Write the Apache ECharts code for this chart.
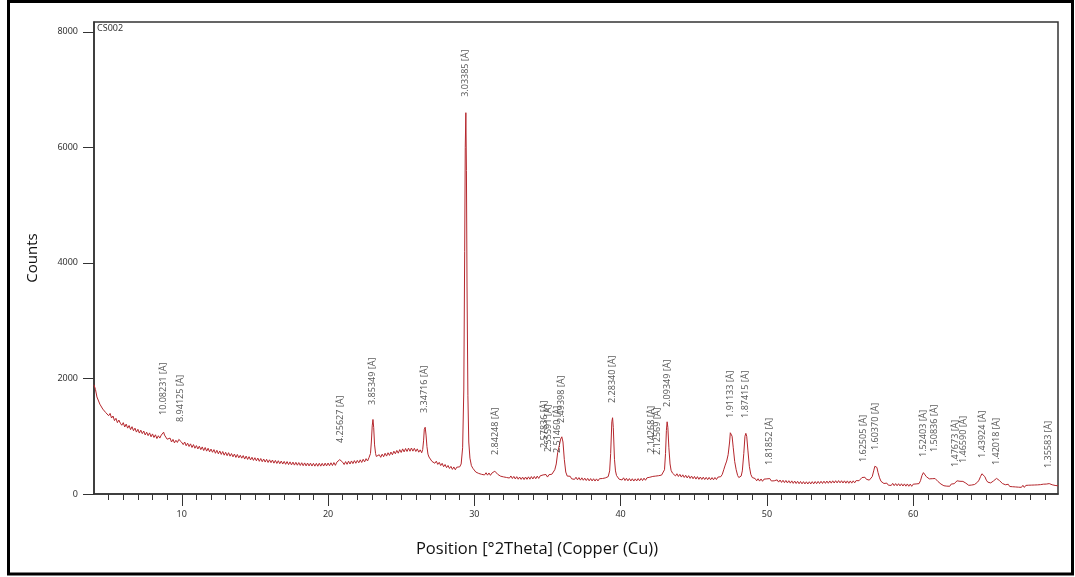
<!DOCTYPE html>
<html>
<head>
<meta charset="utf-8">
<script src="https://cdn.jsdelivr.net/npm/echarts@6/dist/echarts.min.js"></script>
<style>
html,body{margin:0;padding:0;background:#fff;}
#chart{width:1075px;height:577px;}
</style>
</head>
<body>
<div id="chart"></div>
<script>
// ---- data ----
var sampleName = 'CS002';
var xTitle = 'Position [°2Theta] (Copper (Cu))';
var yTitle = 'Counts';
var xMajorTicks = [10, 20, 30, 40, 50, 60];
var xMinorTicks = [5,6,7,8,9,11,12,13,14,15,16,17,18,19,21,22,23,24,25,26,27,28,29,31,32,33,34,35,36,37,38,39,41,42,43,44,45,46,47,48,49,51,52,53,54,55,56,57,58,59,61,62,63,64,65,66,67,68,69];
var yTicks = [0, 2000, 4000, 6000, 8000];

// diffraction pattern [2theta, counts]
var pattern = [
[4.0,1890],[4.1,1810],[4.2,1680],[4.3,1670],[4.4,1555],[4.5,1575],[4.6,1470],[4.7,1500],[4.8,1410],[4.9,1440],[5.0,1355],
[5.1,1395],[5.2,1315],[5.3,1350],[5.4,1270],[5.5,1310],[5.6,1235],[5.7,1280],[5.8,1225],[5.9,1190],[6.0,1235],
[6.1,1160],[6.2,1210],[6.3,1140],[6.4,1185],[6.5,1115],[6.6,1165],[6.7,1095],[6.8,1140],[6.9,1072],[7.0,1120],
[7.1,1055],[7.2,1105],[7.3,1045],[7.4,1090],[7.5,1022],[7.6,1070],[7.7,1010],[7.8,1058],[7.9,990],[8.0,1040],
[8.1,978],[8.2,1025],[8.3,960],[8.4,1008],[8.5,968],[8.6,1020],[8.7,1050],[8.76,1070],[8.82,1020],[8.9,1000],[9.0,948],
[9.1,925],[9.2,968],[9.3,900],[9.4,945],[9.5,885],[9.6,930],[9.7,892],[9.8,945],[9.88,958],[9.96,905],[10.0,905],
[10.1,855],[10.2,900],[10.3,835],[10.4,880],[10.5,822],[10.6,868],[10.7,805],[10.8,855],[10.9,792],[11.0,838],
[11.1,780],[11.2,828],[11.3,768],[11.4,815],[11.5,752],[11.6,805],[11.7,742],[11.8,792],[11.9,730],[12.0,778],
[12.1,722],[12.2,768],[12.3,705],[12.4,756],[12.5,695],[12.6,745],[12.7,685],[12.8,735],[12.9,672],[13.0,722],
[13.1,663],[13.2,715],[13.3,655],[13.4,700],[13.5,643],[13.6,692],[13.7,633],[13.8,684],[13.9,626],[14.0,670],
[14.1,620],[14.2,665],[14.3,605],[14.4,656],[14.5,598],[14.6,646],[14.7,590],[14.8,636],[14.9,582],[15.0,628],
[15.1,574],[15.2,622],[15.3,566],[15.4,614],[15.5,559],[15.6,606],[15.7,553],[15.8,600],[15.9,546],[16.0,592],
[16.1,542],[16.2,588],[16.3,534],[16.4,581],[16.5,529],[16.6,576],[16.7,524],[16.8,570],[16.9,519],[17.0,564],
[17.1,514],[17.2,561],[17.3,509],[17.4,556],[17.5,504],[17.6,552],[17.7,500],[17.8,548],[17.9,498],[18.0,544],
[18.1,494],[18.2,541],[18.3,490],[18.4,538],[18.5,487],[18.6,536],[18.7,486],[18.8,534],[18.9,484],[19.0,531],
[19.1,482],[19.2,530],[19.3,481],[19.4,532],[19.5,482],[19.6,531],[19.7,484],[19.8,534],[19.9,486],[20.0,536],
[20.1,489],[20.2,540],[20.3,492],[20.4,544],[20.5,496],[20.6,551],[20.7,530],[20.8,595],[20.85,615],[20.9,565],[21.0,550],
[21.1,510],[21.2,561],[21.3,514],[21.4,568],[21.5,519],[21.6,572],[21.7,526],[21.8,578],[21.9,532],[22.0,582],
[22.1,540],[22.2,591],[22.3,546],[22.4,601],[22.5,556],[22.6,612],[22.7,572],[22.8,630],[22.9,700],[22.96,900],
[23.02,1180],[23.07,1290],[23.12,1150],[23.18,850],[23.25,700],[23.3,650],
[23.4,625],[23.5,680],[23.6,635],[23.7,690],[23.8,645],[23.9,705],[24.0,656],[24.1,714],[24.2,668],[24.3,726],[24.4,679],[24.5,741],
[24.6,696],[24.7,754],[24.8,706],[24.9,768],[25.0,719],[25.1,781],[25.2,729],[25.3,788],[25.4,736],[25.5,794],[25.6,740],[25.7,796],[25.8,742],[25.9,791],
[26.0,736],[26.1,781],[26.2,724],[26.3,764],[26.4,714],[26.47,770],[26.53,920],[26.58,1120],[26.64,1155],[26.70,1020],[26.76,820],[26.83,690],[26.9,640],
[27.0,628],[27.1,565],[27.2,591],[27.3,532],[27.4,568],[27.5,512],[27.6,548],[27.7,492],[27.8,531],[27.9,472],
[28.0,511],[28.1,456],[28.2,494],[28.3,442],[28.4,478],[28.5,426],[28.6,468],[28.7,420],[28.8,464],[28.9,430],
[29.0,470],[29.10,520],[29.20,800],[29.28,1800],[29.34,4200],[29.38,6000],[29.42,6600],[29.46,5600],[29.50,3600],[29.56,1700],
[29.62,900],[29.7,620],[29.8,490],[29.9,445],[30.0,425],[30.1,380],[30.2,400],[30.3,356],[30.4,384],[30.5,340],
[30.6,374],[30.7,330],[30.8,368],[30.9,326],[31.0,364],[31.1,323],[31.2,362],[31.3,350],[31.4,395],[31.45,412],
[31.5,395],[31.6,340],[31.7,350],[31.8,308],[31.9,342],[32.0,296],[32.1,330],[32.2,286],[32.3,320],[32.4,276],
[32.5,312],[32.6,268],[32.7,304],[32.8,260],[32.9,300],[33.0,256],[33.1,294],[33.2,253],[33.3,292],[33.4,250],
[33.5,294],[33.6,254],[33.7,297],[33.8,256],[33.9,302],[34.0,260],[34.1,304],[34.2,264],[34.3,310],[34.4,270],
[34.5,314],[34.6,280],[34.7,330],[34.8,300],[34.9,337],[35.0,293],[35.1,334],[35.2,303],[35.3,342],[35.4,350],
[35.5,420],[35.6,520],[35.7,720],[35.8,830],[35.9,950],[35.98,990],[36.06,900],[36.15,600],[36.25,380],[36.35,310],
[36.45,278],[36.55,307],[36.65,263],[36.75,297],[36.85,253],[36.95,290],[37.05,246],[37.15,284],[37.25,240],[37.35,280],
[37.45,238],[37.55,274],[37.65,233],[37.75,270],[37.85,228],[37.95,267],[38.05,226],[38.15,264],[38.25,224],[38.35,262],
[38.45,226],[38.55,264],[38.65,230],[38.75,268],[38.85,240],[38.95,278],[39.05,270],[39.15,300],[39.25,400],[39.32,700],
[39.40,1250],[39.45,1320],[39.50,1150],[39.58,600],[39.65,400],[39.72,320],[39.8,290],[39.9,256],[40.0,287],[40.1,243],
[40.2,280],[40.3,233],[40.4,272],[40.5,228],[40.6,267],[40.7,226],[40.8,264],[40.9,224],[41.0,262],[41.1,226],
[41.2,267],[41.3,228],[41.4,270],[41.5,232],[41.6,274],[41.7,238],[41.8,280],[41.9,246],[42.0,290],[42.1,260],
[42.2,304],[42.3,270],[42.4,310],[42.5,276],[42.6,317],[42.7,284],[42.8,327],[42.9,330],[43.0,420],[43.07,700],
[43.13,1100],[43.18,1250],[43.23,1150],[43.3,800],[43.38,520],[43.45,410],[43.55,360],[43.65,360],[43.75,313],[43.85,350],
[43.95,303],[44.05,340],[44.15,293],[44.25,332],[44.35,286],[44.45,324],[44.55,278],[44.65,317],[44.75,270],[44.85,310],
[44.95,264],[45.05,304],[45.15,258],[45.25,300],[45.35,254],[45.45,294],[45.55,252],[45.65,292],[45.75,250],[45.85,288],
[45.95,248],[46.05,287],[46.15,246],[46.25,284],[46.35,246],[46.45,286],[46.55,250],[46.65,292],[46.75,278],[46.85,300],
[46.95,340],[47.05,420],[47.15,500],[47.25,570],[47.35,680],[47.45,900],[47.5,1060],[47.56,1085],[47.62,1000],[47.7,800],
[47.8,560],[47.9,420],[48.0,320],[48.08,285],[48.16,280],[48.24,310],[48.32,400],[48.42,700],[48.5,1000],[48.56,1050],
[48.62,1000],[48.7,760],[48.8,480],[48.9,340],[49.0,285],[49.1,262],[49.2,267],[49.3,228],[49.4,264],[49.5,223],
[49.6,260],[49.7,220],[49.8,257],[49.9,224],[50.0,262],[50.1,262],[50.2,267],[50.3,226],[50.4,242],[50.5,228],
[50.6,212],[50.7,245],[50.8,206],[50.9,242],[51.0,200],[51.1,238],[51.2,196],[51.3,234],[51.4,192],[51.5,230],
[51.6,188],[51.7,227],[51.8,184],[51.9,224],[52.0,182],[52.1,220],[52.2,178],[52.3,217],[52.4,176],[52.5,214],
[52.6,174],[52.7,212],[52.8,173],[52.9,212],[53.0,174],[53.1,214],[53.2,176],[53.3,216],[53.4,178],[53.5,218],
[53.6,180],[53.7,220],[53.8,182],[53.9,222],[54.0,184],[54.1,224],[54.2,186],[54.3,226],[54.4,188],[54.5,228],
[54.6,190],[54.7,230],[54.8,192],[54.9,232],[55.0,193],[55.1,230],[55.2,190],[55.3,228],[55.4,188],[55.5,227],
[55.6,186],[55.7,226],[55.8,188],[55.9,228],[56.0,193],[56.1,232],[56.2,215],[56.3,230],[56.4,250],[56.5,285],
[56.6,310],[56.7,290],[56.8,255],[56.9,235],[57.0,240],[57.1,262],[57.2,300],[57.3,400],[57.38,480],[57.45,505],
[57.52,460],[57.6,370],[57.7,280],[57.8,220],[57.9,195],[58.0,182],[58.1,168],[58.2,188],[58.3,153],[58.4,187],
[58.5,148],[58.6,184],[58.7,144],[58.8,180],[58.9,142],[59.0,178],[59.1,140],[59.2,177],[59.3,138],[59.4,175],
[59.5,136],[59.6,174],[59.7,134],[59.8,172],[59.9,133],[60.0,170],[60.1,136],[60.2,174],[60.3,155],[60.4,180],
[60.5,230],[60.6,320],[60.7,370],[60.8,350],[60.9,300],[61.0,268],[61.1,262],[61.2,270],[61.3,265],[61.4,282],
[61.5,268],[61.6,245],[61.7,215],[61.8,195],[61.9,172],[62.0,168],[62.1,143],[62.2,174],[62.3,136],[62.4,170],
[62.5,134],[62.6,172],[62.7,155],[62.8,178],[62.9,210],[63.0,228],[63.1,236],[63.2,220],[63.3,205],[63.4,218],
[63.5,210],[63.6,188],[63.7,172],[63.8,150],[63.9,176],[64.0,155],[64.1,180],[64.2,165],[64.3,190],[64.4,205],
[64.5,240],[64.6,300],[64.7,350],[64.75,360],[64.8,345],[64.9,300],[65.0,240],[65.1,205],[65.2,190],[65.3,192],
[65.4,205],[65.5,228],[65.6,255],[65.7,270],[65.8,258],[65.9,232],[66.0,200],[66.1,182],[66.2,165],[66.3,160],
[66.4,140],[66.5,168],[66.6,130],[66.7,162],[66.8,126],[66.9,158],[67.0,122],[67.1,155],[67.2,118],[67.3,152],
[67.4,115],[67.5,150],[67.6,114],[67.7,149],[67.8,116],[67.9,152],[68.0,118],[68.1,154],[68.2,120],[68.3,156],
[68.4,122],[68.5,158],[68.6,126],[68.7,162],[68.8,133],[68.9,170],[69.0,160],[69.1,172],[69.2,178],[69.3,180],
[69.4,168],[69.5,160],[69.6,150],[69.7,148],[69.8,140],[69.9,142]
];

// peak list: d-spacing labels, positions (2theta) and peak heights (counts)
var peakD = ['10.08231','8.94125','4.25627','3.85349','3.34716','3.03385','2.84248','2.57836','2.55591','2.51460','2.49398','2.28340','2.14268','2.12569','2.09349','1.91133','1.87415','1.81852','1.62505','1.60370','1.52403','1.50836','1.47673','1.46590','1.43924','1.42018','1.35583'];
var peakPos = [8.76,9.88,20.85,23.06,26.61,29.42,31.45,34.77,35.09,35.68,35.98,39.43,42.14,42.49,43.17,47.54,48.54,50.14,56.61,57.44,60.73,61.43,62.89,63.41,64.72,65.70,69.23];
var peakHeight = [1108,987,624,1282,1143,6616,416,537,468,450,970,1316,450,416,1247,1057,1057,242,294,502,381,468,208,277,364,242,190];

// ---- chart ----
var chart = echarts.init(document.getElementById('chart'), null, {renderer: 'canvas'});
var axisColor = '#333333';
var peakData = peakPos.map(function (p, i) { return [p, peakHeight[i], peakD[i]]; });

chart.setOption({
  animation: false,
  backgroundColor: '#ffffff',
  grid: {
    left: 94, top: 22, right: 17, bottom: 83,
    show: true, borderColor: axisColor, borderWidth: 1.5, backgroundColor: 'transparent'
  },
  graphic: [
    {type: 'rect', shape: {x: 8.5, y: 1.5, width: 1064, height: 572.5},
     style: {fill: 'none', stroke: '#000', lineWidth: 3}, silent: true},
    {type: 'text', x: 97, y: 24,
     style: {text: sampleName, fontSize: 9, fill: axisColor, fontFamily: 'Noto Sans'}},
    {type: 'text', x: 537, y: 549,
     style: {text: xTitle, fontSize: 16.5, fill: '#111', fontFamily: 'Open Sans',
             align: 'center', verticalAlign: 'middle'}}
  ],
  xAxis: [
    {
      type: 'value', min: 4, max: 69.9, position: 'bottom',
      axisLine: {show: true, lineStyle: {color: axisColor, width: 1.5}},
      axisTick: {show: true, customValues: xMajorTicks, length: 12, lineStyle: {color: axisColor, width: 1}},
      axisLabel: {show: true, customValues: xMajorTicks, margin: 16, fontSize: 9, color: axisColor, fontFamily: 'Noto Sans'},
      splitLine: {show: false}
    },
    {
      type: 'value', min: 4, max: 69.9, position: 'bottom',
      axisLine: {show: false},
      axisTick: {show: true, customValues: xMinorTicks, length: 6, lineStyle: {color: axisColor, width: 1}},
      axisLabel: {show: false},
      splitLine: {show: false}
    }
  ],
  yAxis: {
    type: 'value', min: 0, max: 8170,
    axisLine: {show: true, lineStyle: {color: axisColor, width: 1.5}},
    axisTick: {show: true, customValues: yTicks, length: 11, lineStyle: {color: axisColor, width: 1}},
    axisLabel: {show: true, customValues: yTicks, margin: 16, fontSize: 9, color: axisColor, fontFamily: 'Noto Sans',
                formatter: function (v) { return String(v); }},
    splitLine: {show: false},
    name: yTitle, nameLocation: 'middle', nameGap: 54, nameRotate: 90,
    nameTextStyle: {fontSize: 15, color: '#111', fontFamily: 'Open Sans'}
  },
  series: [
    {
      type: 'line', xAxisIndex: 0, data: pattern, showSymbol: false, symbol: 'none',
      lineStyle: {color: '#b5272d', width: 1}, silent: true, z: 3
    },
    {
      type: 'scatter', xAxisIndex: 0, data: peakData, symbolSize: 0, silent: true, z: 4,
      label: {
        show: true, position: 'top', distance: 15, rotate: 90,
        align: 'left', verticalAlign: 'middle',
        formatter: function (p) { return p.value[2] + ' [Å]'; },
        fontSize: 9, color: axisColor, fontFamily: 'Noto Sans'
      },
      labelLayout: {hideOverlap: false}
    }
  ]
});
</script>
</body>
</html>
